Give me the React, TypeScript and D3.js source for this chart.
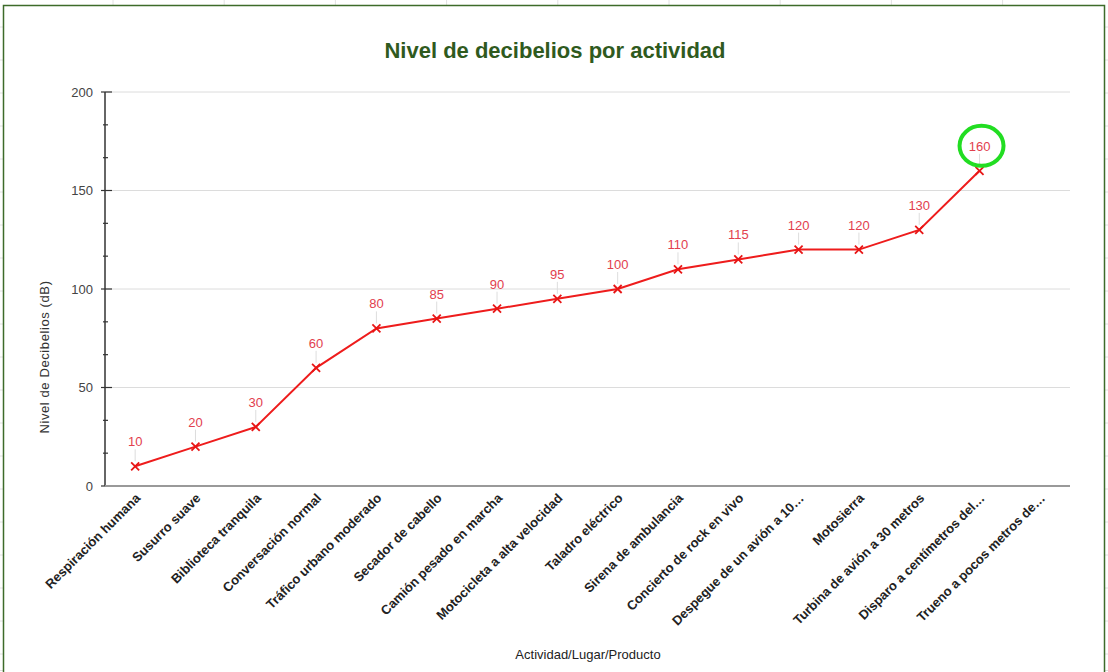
import { useEffect, useRef } from "react"
import * as d3 from "d3"

const categories = [
  "Respiración humana",
  "Susurro suave",
  "Biblioteca tranquila",
  "Conversación normal",
  "Tráfico urbano moderado",
  "Secador de cabello",
  "Camión pesado en marcha",
  "Motocicleta a alta velocidad",
  "Taladro eléctrico",
  "Sirena de ambulancia",
  "Concierto de rock en vivo",
  "Despegue de un avión a 10…",
  "Motosierra",
  "Turbina de avión a 30 metros",
  "Disparo a centímetros del…",
  "Trueno a pocos metros de…",
]
const decibels: (number | null)[] = [10, 20, 30, 60, 80, 85, 90, 95, 100, 110, 115, 120, 120, 130, 160, null]
const yTicks = [0, 50, 100, 150, 200]
const highlighted = "Disparo a centímetros del…"

const W = 1108
const H = 672
const FONT = "'Liberation Sans', Arial, sans-serif"

export default function App() {
  const svgRef = useRef<SVGSVGElement>(null)

  useEffect(() => {
    if (!svgRef.current) return
    const svg = d3.select(svgRef.current)
    svg.selectAll("*").remove()

    const left = 105, right = 1070, top = 92, bottom = 486

    // spreadsheet grid peeking round the chart frame
    const bg = svg.append("g").attr("stroke", "#e2e2e2").attr("stroke-width", 1)
    d3.range(113, W, 111.2).forEach(x => bg.append("line").attr("x1", x).attr("x2", x).attr("y1", 0).attr("y2", 5))
    d3.range(27, H, 33).forEach(y => {
      bg.append("line").attr("x1", 0).attr("x2", 3).attr("y1", y).attr("y2", y)
      bg.append("line").attr("x1", 1105).attr("x2", W).attr("y1", y).attr("y2", y)
    })
    svg.append("line").attr("x1", 0).attr("x2", W).attr("y1", 670.5).attr("y2", 670.5).attr("stroke", "#ddd")

    svg.append("rect")
      .attr("x", 3.5).attr("y", 5.5).attr("width", 1101).attr("height", 670)
      .attr("fill", "#fff").attr("stroke", "#3d6b2a").attr("stroke-width", 1.5)

    const x = d3.scaleBand().domain(categories).range([left, right])
    const y = d3.scaleLinear().domain([0, 200]).range([bottom, top])
    const cx = (c: string) => (x(c) ?? 0) + x.bandwidth() / 2

    svg.append("text")
      .attr("x", 555).attr("y", 58)
      .attr("text-anchor", "middle")
      .attr("font-family", FONT).attr("font-size", 22).attr("font-weight", "bold")
      .attr("fill", "#2f5a1e")
      .text("Nivel de decibelios por actividad")

    // gridlines
    svg.append("g").selectAll("line").data(yTicks.filter(d => d > 0)).join("line")
      .attr("x1", left).attr("x2", right)
      .attr("y1", d => y(d)).attr("y2", d => y(d))
      .attr("stroke", "#dcdcdc").attr("stroke-width", 1)

    // y axis
    const step = yTicks[1] - yTicks[0]
    const minor = d3.range(0, 200, step / 3).filter(v => Math.abs(v % step) > 1e-6)
    const ax = svg.append("g")
    ax.append("line").attr("x1", left).attr("x2", left).attr("y1", top).attr("y2", bottom)
      .attr("stroke", "#333").attr("stroke-width", 1.5)
    ax.selectAll(".maj").data(yTicks).join("line").attr("class", "maj")
      .attr("x1", left - 4).attr("x2", left + 7)
      .attr("y1", d => y(d)).attr("y2", d => y(d))
      .attr("stroke", "#333").attr("stroke-width", 1.2)
    ax.selectAll(".min").data(minor).join("line").attr("class", "min")
      .attr("x1", left - 2).attr("x2", left + 3)
      .attr("y1", d => y(d)).attr("y2", d => y(d))
      .attr("stroke", "#333").attr("stroke-width", 1.2)
    ax.selectAll("text").data(yTicks).join("text")
      .attr("x", left - 12).attr("y", d => y(d) + 4.5)
      .attr("text-anchor", "end")
      .attr("font-family", FONT).attr("font-size", 13).attr("fill", "#444")
      .text(d => d)

    svg.append("text")
      .attr("transform", `translate(49,357) rotate(-90)`)
      .attr("text-anchor", "middle")
      .attr("font-family", FONT).attr("font-size", 13).attr("letter-spacing", 0.6).attr("fill", "#333")
      .text("Nivel de Decibelios (dB)")

    // x axis
    svg.append("line").attr("x1", left).attr("x2", right).attr("y1", bottom).attr("y2", bottom)
      .attr("stroke", "#999").attr("stroke-width", 2)
    svg.append("g").selectAll("text").data(categories).join("text")
      .attr("transform", d => `translate(${cx(d) + 6},${bottom + 13}) rotate(-45)`)
      .attr("text-anchor", "end")
      .attr("font-family", FONT).attr("font-size", 13).attr("font-weight", "bold").attr("fill", "#222")
      .text(d => d)

    svg.append("text")
      .attr("x", 588).attr("y", 659)
      .attr("text-anchor", "middle")
      .attr("font-family", FONT).attr("font-size", 13).attr("fill", "#222")
      .text("Actividad/Lugar/Producto")

    // series
    const pts = categories.map((c, i) => ({ c, v: decibels[i] })).filter(p => p.v !== null) as { c: string; v: number }[]
    const line = d3.line<{ c: string; v: number }>().x(d => cx(d.c)).y(d => y(d.v))
    svg.append("path").attr("d", line(pts))
      .attr("fill", "none").attr("stroke", "#ee1c1c").attr("stroke-width", 2)

    const g = svg.append("g").selectAll("g").data(pts).join("g")
      .attr("transform", d => `translate(${cx(d.c)},${y(d.v)})`)
    g.append("line").attr("x1", 0).attr("x2", 0).attr("y1", -5).attr("y2", -17)
      .attr("stroke", "#ddd").attr("stroke-width", 1)
    g.append("path").attr("d", "M-4,-4L4,4M-4,4L4,-4")
      .attr("stroke", "#e81515").attr("stroke-width", 1.8)
    g.append("text").attr("x", 0).attr("y", -20)
      .attr("text-anchor", "middle")
      .attr("font-family", FONT).attr("font-size", 13).attr("fill", "#e2404e")
      .text(d => d.v)

    // highlight ring round the top value
    const hi = pts.find(p => p.c === highlighted)
    if (hi) {
      svg.append("ellipse")
        .attr("cx", cx(hi.c) + 2).attr("cy", y(hi.v) - 25)
        .attr("rx", 22).attr("ry", 20)
        .attr("fill", "none").attr("stroke", "#22dd22").attr("stroke-width", 4)
    }
  }, [])

  return (
    <div style={{ position: "fixed", left: 0, top: 0 }}>
      <svg ref={svgRef} width={W} height={H} style={{ display: "block" }}></svg>
    </div>
  )
}
